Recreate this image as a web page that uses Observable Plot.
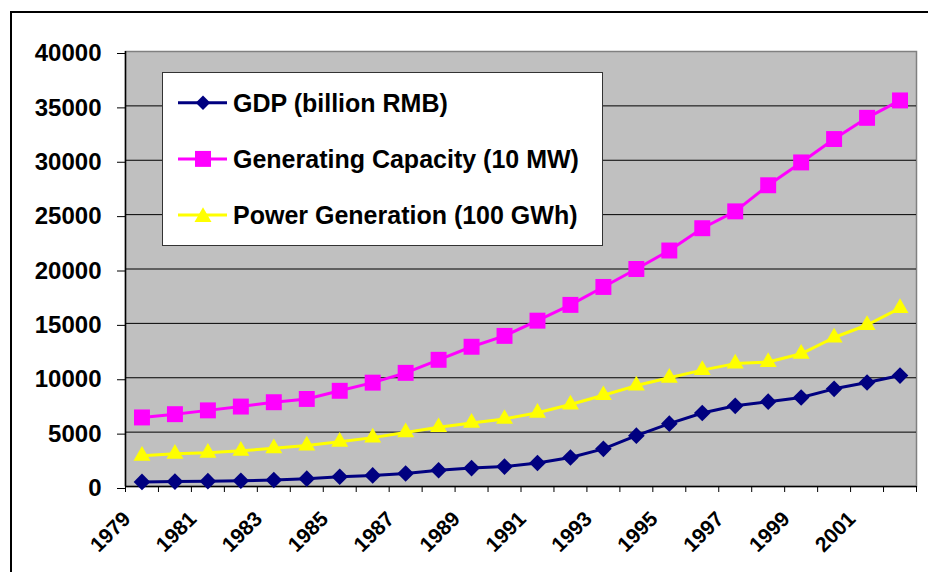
<!DOCTYPE html>
<html>
<head>
<meta charset="utf-8">
<script src="https://cdn.jsdelivr.net/npm/d3@7"></script>
<script src="https://cdn.jsdelivr.net/npm/@observablehq/plot@0.6"></script>
<style>
  html, body { margin: 0; padding: 0; background: #fff; }
  #wrap { position: relative; width: 928px; height: 572px; overflow: hidden; font-family: "Liberation Sans", Arial, sans-serif; }
  #chart { position: absolute; left: 0; top: 0; }
  #frame { position: absolute; left: 10px; top: 11px; width: 940px; height: 600px; border: 2px solid #000; box-sizing: border-box; }
  #legend { position: absolute; left: 162px; top: 72px; width: 441px; height: 174px; background: #fff; border: 1px solid #333; box-sizing: border-box; }
  #legend svg { display: block; }
</style>
</head>
<body>
<div id="wrap">
  <div id="chart"></div>
  <div id="legend"></div>
  <div id="frame"></div>
</div>
<script>
// ---- data ----
const years = [1979, 1980, 1981, 1982, 1983, 1984, 1985, 1986, 1987, 1988, 1989, 1990,
               1991, 1992, 1993, 1994, 1995, 1996, 1997, 1998, 1999, 2000, 2001, 2002];
const gdp = [420, 455, 489, 532, 596, 721, 896, 1020, 1196, 1493, 1691, 1830,
             2162, 2664, 3463, 4676, 5780, 6760, 7420, 7800, 8180, 8980, 9560, 10200];
const capacity = [6350, 6650, 7000, 7350, 7750, 8050, 8800, 9550, 10450, 11650, 12850, 13850,
                  15250, 16700, 18350, 20000, 21700, 23750, 25300, 27700, 29800, 31950, 33900, 35500];
const power = [2820, 3006, 3093, 3277, 3514, 3770, 4107, 4495, 4973, 5452, 5848, 6212,
               6775, 7539, 8395, 9281, 10000, 10700, 11300, 11450, 12200, 13700, 14850, 16400];
const seriesNames = ["GDP (billion RMB)", "Generating Capacity (10 MW)", "Power Generation (100 GWh)"];
const seriesValues = [gdp, capacity, power];
const seriesColors = ["#000080", "#FF00FF", "#FFFF00"];
const seriesSymbols = ["diamond2", "square", "triangle"];
const yTicks = [0, 5000, 10000, 15000, 20000, 25000, 30000, 35000, 40000];
const xLabelYears = [1979, 1981, 1983, 1985, 1987, 1989, 1991, 1993, 1995, 1997, 1999, 2001];

// ---- derived ----
const xDomain = [years[0] - 0.5, years[years.length - 1] + 0.5];
const boundaries = years.map(y => y - 0.5).concat([years[years.length - 1] + 0.5]);
const symbolR = { diamond2: 7.5, square: 9, triangle: 6.3 };

const marks = [
  Plot.frame({ fill: "#C0C0C0", stroke: "#808080", strokeWidth: 1.5 }),
  Plot.ruleY(yTicks.filter(v => v > yTicks[0] && v < yTicks[yTicks.length - 1]), { stroke: "#000", strokeWidth: 1 }),
  Plot.ruleY([yTicks[0]], { stroke: "#000", strokeWidth: 1.5 }),
  Plot.ruleX([xDomain[0]], { stroke: "#000", strokeWidth: 1.5 }),
  Plot.axisY(yTicks, {
    tickSize: 8, tickPadding: 16, fontSize: 24, fontWeight: "bold",
    label: null, tickFormat: d => String(d), dy: 2
  }),
  Plot.axisX(boundaries, { tickSize: 6, tickFormat: () => "", label: null }),
  Plot.text(xLabelYears, {
    x: d => d, frameAnchor: "bottom", text: d => String(d),
    rotate: -45, textAnchor: "end", lineAnchor: "middle",
    dx: -15, dy: 29, fontSize: 21, fontWeight: "bold", fill: "#000"
  })
];

seriesNames.forEach((name, si) => {
  const rows = years.map((yr, i) => ({ year: yr, value: seriesValues[si][i] }));
  marks.push(Plot.line(rows, { x: "year", y: "value", stroke: seriesColors[si], strokeWidth: 3 }));
});
seriesNames.forEach((name, si) => {
  const rows = years.map((yr, i) => ({ year: yr, value: seriesValues[si][i] }));
  marks.push(Plot.dot(rows, {
    x: "year", y: "value", symbol: seriesSymbols[si], r: symbolR[seriesSymbols[si]],
    fill: seriesColors[si], stroke: "none"
  }));
});

const chart = Plot.plot({
  width: 928,
  height: 572,
  marginTop: 51,
  marginLeft: 125,
  marginRight: 12,
  marginBottom: 86,
  style: { background: "transparent", fontFamily: "'Liberation Sans', Arial, sans-serif", color: "#000", overflow: "visible" },
  x: { type: "linear", domain: xDomain, axis: null },
  y: { type: "linear", domain: [yTicks[0], yTicks[yTicks.length - 1]], axis: null },
  marks
});
document.getElementById("chart").appendChild(chart);

// ---- legend (inside plot area, top-left) ----
const lg = d3.select("#legend").append("svg").attr("width", 439).attr("height", 172);
const symbolTypes = { diamond2: d3.symbolDiamond2, square: d3.symbolSquare, triangle: d3.symbolTriangle };
seriesNames.forEach((name, si) => {
  const cy = 29.7 + si * 56.2;
  const g = lg.append("g");
  g.append("line").attr("x1", 15).attr("x2", 64).attr("y1", cy).attr("y2", cy)
    .attr("stroke", seriesColors[si]).attr("stroke-width", 3);
  const r = symbolR[seriesSymbols[si]];
  g.append("path")
    .attr("transform", `translate(40,${cy + (seriesSymbols[si] === "triangle" ? 2 : 0)})`)
    .attr("d", d3.symbol(symbolTypes[seriesSymbols[si]], Math.PI * r * r * (si === 0 ? 0.75 : 1))())
    .attr("fill", seriesColors[si]);
  g.append("text").attr("x", 70).attr("y", cy).attr("dy", "0.36em")
    .attr("font-family", "'Liberation Sans', Arial, sans-serif")
    .attr("font-size", 25).attr("font-weight", "bold").attr("fill", "#000")
    .text(name);
});
</script>
</body>
</html>
